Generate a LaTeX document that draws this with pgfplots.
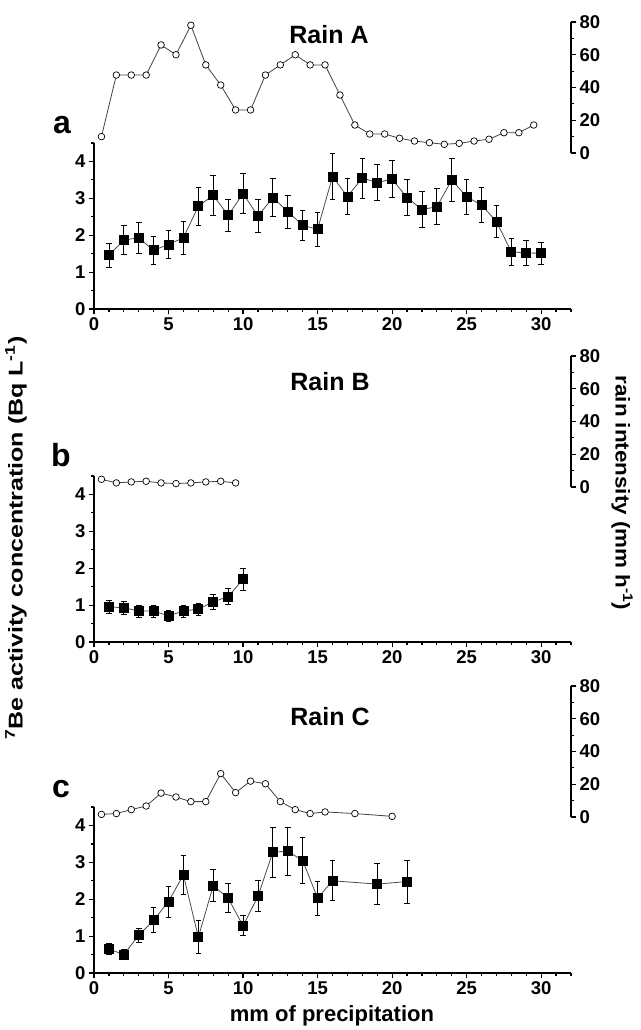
\documentclass[border=0pt]{standalone}
\usepackage{fontspec}
\setmainfont{Liberation Sans}
\usepackage{pgfplots}
\pgfplotsset{compat=1.18}

\pgfplotsset{
  common/.style={
    scale only axis, width=477pt, xmin=0, xmax=32,
    tick align=outside, major tick length=5pt, minor tick length=3pt,
    axis line style={-, line width=1.6pt},
    tick style={black, line width=1.2pt},
    tick label style={font=\fontsize{18.5}{18.5}\selectfont\bfseries},
    /pgf/number format/assume math mode=true,
    clip=false,
  },
  beaxis/.style={common, height=166pt, ymin=0, ymax=4.5,
    axis x line*=bottom, axis y line*=left,
    xtick={0,5,...,30}, minor xtick={1,2,...,32},
    ytick={0,1,2,3,4}, minor ytick={0.5,1.5,2.5,3.5,4.5},
    anchor=south west},
  rainaxis/.style={common, height=131pt, ymin=0, ymax=80,
    axis x line=none, axis y line*=right,
    ytick={0,20,40,60,80}, minor ytick={10,30,50,70},
    anchor=south west},
  beplot/.style={black!70, line width=0.8pt, mark=square*,
    mark size=4.5pt, mark options={black, fill=black},
    error bars/.cd, y dir=both, y explicit,
    error bar style={black, line width=0.8pt},
    error mark options={rotate=90, mark size=2.8pt, line width=0.8pt, black}},
  rainplot/.style={black!75, line width=0.8pt, mark=*, mark size=3.3pt,
    mark options={draw=black, fill=white, line width=0.7pt}},
}

\pgfplotstableread{
x y e
1 1.46 0.33
2 1.87 0.40
3 1.93 0.43
4 1.59 0.37
5 1.75 0.38
6 1.93 0.45
7 2.79 0.52
8 3.08 0.55
9 2.54 0.43
10 3.13 0.54
11 2.52 0.44
12 3.02 0.52
13 2.64 0.45
14 2.27 0.40
15 2.16 0.46
16 3.59 0.62
17 3.05 0.48
18 3.55 0.54
19 3.43 0.48
20 3.52 0.50
21 3.02 0.49
22 2.70 0.50
23 2.77 0.49
24 3.50 0.57
25 3.04 0.47
26 2.82 0.48
27 2.37 0.44
28 1.55 0.36
29 1.52 0.35
30 1.51 0.30
}\beA

\pgfplotstableread{
x r
0.5 10.0
1.5 47.6
2.5 47.6
3.5 47.6
4.5 66.0
5.5 60.0
6.5 78.0
7.5 53.8
8.5 41.5
9.5 26.3
10.5 26.3
11.5 47.6
12.5 53.8
13.5 60.0
14.5 53.8
15.5 53.8
16.5 35.4
17.5 17.1
18.5 11.6
19.5 11.6
20.5 9.0
21.5 7.3
22.5 6.3
23.5 5.3
24.5 5.9
25.5 7.3
26.5 8.4
27.5 12.4
28.5 12.4
29.5 17.1
}\rainA

\pgfplotstableread{
x y e
1 0.95 0.18
2 0.93 0.17
3 0.84 0.16
4 0.84 0.16
5 0.71 0.15
6 0.84 0.16
7 0.89 0.17
8 1.09 0.21
9 1.23 0.22
10 1.70 0.30
}\beB

\pgfplotstableread{
x r
0.5 4.7
1.5 2.5
2.5 3.1
3.5 3.5
4.5 2.5
5.5 2.1
6.5 2.5
7.5 3.1
8.5 3.5
9.5 2.5
}\rainB

\pgfplotstableread{
x y e
1 0.65 0.14
2 0.50 0.13
3 1.02 0.20
4 1.43 0.34
5 1.94 0.42
6 2.66 0.54
7 0.97 0.45
8 2.37 0.43
9 2.03 0.40
10 1.28 0.27
11 2.08 0.42
12 3.28 0.68
13 3.30 0.65
14 3.05 0.62
15 2.03 0.46
16 2.50 0.54
19 2.41 0.56
21 2.48 0.58
}\beC

\pgfplotstableread{
x r
0.5 1.6
1.5 2.1
2.5 4.5
3.5 6.7
4.5 14.6
5.5 12.2
6.5 9.4
7.5 9.4
8.5 26.5
9.5 14.9
10.5 21.9
11.5 20.3
12.5 9.4
13.5 4.5
14.5 2.1
15.5 3.1
17.5 2.1
20.0 0.4
}\rainC

\begin{document}
\begin{tikzpicture}
\path[use as bounding box] (0pt,0pt) rectangle (640pt,-1030pt);

% panel a
\begin{axis}[beaxis, at={(94pt,-309pt)}]
\addplot+[beplot] table[x=x, y=y, y error=e] {\beA};
\end{axis}
\begin{axis}[rainaxis, at={(94pt,-153pt)}]
\addplot+[rainplot] table[x=x, y=r] {\rainA};
\end{axis}

% panel b
\begin{axis}[beaxis, at={(94pt,-642pt)}]
\addplot+[beplot] table[x=x, y=y, y error=e] {\beB};
\end{axis}
\begin{axis}[rainaxis, at={(94pt,-487pt)}]
\addplot+[rainplot] table[x=x, y=r] {\rainB};
\end{axis}

% panel c
\begin{axis}[beaxis, at={(94pt,-973pt)}]
\addplot+[beplot] table[x=x, y=y, y error=e] {\beC};
\end{axis}
\begin{axis}[rainaxis, at={(94pt,-817pt)}]
\addplot+[rainplot] table[x=x, y=r] {\rainC};
\end{axis}

\begin{scope}[every node/.style={font=\fontsize{25}{25}\selectfont\bfseries}]
\node at (329pt,-35pt) {Rain A};
\node at (330pt,-382pt) {Rain B};
\node at (330pt,-717pt) {Rain C};
\end{scope}
\begin{scope}[every node/.style={font=\fontsize{32}{32}\selectfont\bfseries, anchor=base}]
\node at (62pt,-133pt) {a};
\node at (61pt,-466pt) {b};
\node at (61pt,-797pt) {c};
\end{scope}
\node[rotate=90, font=\fontsize{20}{20}\selectfont\bfseries] at (16pt,-538pt)
  {\scalebox{1.25}[1]{\textsuperscript{7}Be activity concentration (Bq L\textsuperscript{-1})}};
\node[rotate=-90, font=\fontsize{20}{20}\selectfont\bfseries] at (622pt,-493pt)
  {\scalebox{1.12}[1]{rain intensity (mm h\textsuperscript{-1})}};
\node[font=\fontsize{22}{22}\selectfont\bfseries] at (332pt,-1016pt) {mm of precipitation};
\end{tikzpicture}
\end{document}
